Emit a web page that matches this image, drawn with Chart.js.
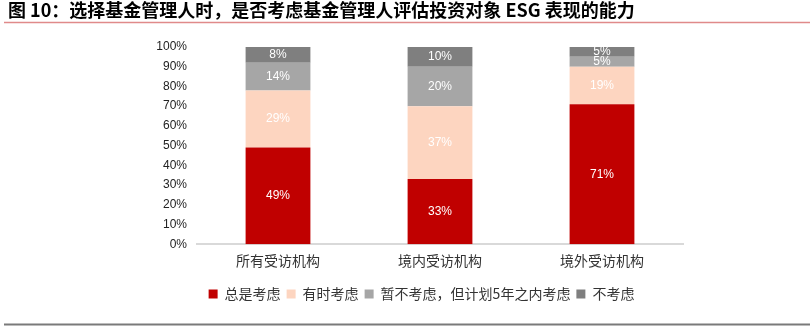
<!DOCTYPE html>
<html><head><meta charset="utf-8">
<script src="https://cdn.jsdelivr.net/npm/chart.js@4.4.1/dist/chart.umd.min.js"></script>
<style>html,body{margin:0;padding:0;background:#fff}#wrap{width:810px;height:336px;position:relative}</style>
</head><body>
<div id="wrap"><canvas id="c" width="810" height="336"></canvas></div>
<script>
const titleText = "图 10：选择基金管理人时，是否考虑基金管理人评估投资对象 ESG 表现的能力";
const categories = ["所有受访机构", "境内受访机构", "境外受访机构"];
const seriesNames = ["总是考虑", "有时考虑", "暂不考虑，但计划5年之内考虑", "不考虑"];
const alwaysVals = [49, 33, 71];
const sometimesVals = [29, 37, 19];
const planVals = [14, 20, 5];
const neverVals = [8, 10, 5];
const colors = ["#C00000", "#FDD5C0", "#A6A6A6", "#7F7F7F"];

const cjk = '"Noto Sans CJK SC", "Noto Sans", sans-serif';
const latin = '"Liberation Sans", Arial, sans-serif';

const decor = {
  id: 'decor',
  afterLayout(chart) {
    if (chart.legend) { chart.legend.left += 5; chart.legend.right += 5; }
  },
  beforeDraw(chart) {
    const ctx = chart.ctx;
    ctx.save();
    ctx.fillStyle = '#fff';
    ctx.fillRect(0, 0, chart.width, chart.height);
    ctx.fillStyle = '#000';
    ctx.font = 'bold 18px ' + cjk;
    ctx.textBaseline = 'middle';
    ctx.textAlign = 'left';
    ctx.fillText(titleText, 8, 10);
    ctx.strokeStyle = '#E08A8A';
    ctx.lineWidth = 1.5;
    ctx.beginPath(); ctx.moveTo(4, 22.5); ctx.lineTo(810, 22.5); ctx.stroke();
    ctx.strokeStyle = '#7A7A7A';
    ctx.lineWidth = 2;
    ctx.beginPath(); ctx.moveTo(4, 324.5); ctx.lineTo(810, 324.5); ctx.stroke();
    ctx.restore();
  },
  afterDatasetsDraw(chart) {
    const ctx = chart.ctx;
    ctx.save();
    ctx.font = '12px ' + latin;
    ctx.fillStyle = '#fff';
    ctx.textAlign = 'center';
    ctx.textBaseline = 'middle';
    chart.data.datasets.forEach((ds, i) => {
      const meta = chart.getDatasetMeta(i);
      meta.data.forEach((el, j) => {
        const cy = (el.y + el.base) / 2;
        ctx.fillText(ds.data[j] + '%', el.x, cy);
      });
    });
    ctx.restore();
  }
};

const datasets = [alwaysVals, sometimesVals, planVals, neverVals].map((d, i) => ({
  label: seriesNames[i],
  data: d,
  backgroundColor: colors[i],
  borderWidth: 0,
  barPercentage: 0.5,
  categoryPercentage: 0.8
}));

new Chart(document.getElementById('c'), {
  type: 'bar',
  data: { labels: categories, datasets },
  plugins: [decor],
  options: {
    responsive: false,
    animation: false,
    layout: { padding: { left: 150, right: 127, top: 47, bottom: 25 } },
    plugins: {
      title: { display: false },
      tooltip: { enabled: false },
      legend: {
        position: 'bottom',
        labels: {
          boxWidth: 9, boxHeight: 9, padding: 6,
          color: '#333', font: { family: cjk, size: 14 }
        }
      }
    },
    scales: {
      x: {
        stacked: true,
        afterFit(s) { s.height = s.height + 4; },
        grid: { display: false, drawTicks: false },
        border: { display: true, color: '#D9D9D9', width: 2 },
        ticks: { color: '#333', font: { family: cjk, size: 14 }, padding: 8 }
      },
      y: {
        stacked: true, min: 0, max: 100,
        afterFit(s) { s.width = 47; },
        grid: { display: false, drawTicks: false },
        border: { display: false },
        ticks: { stepSize: 10, color: '#222', font: { family: latin, size: 12 }, padding: 10,
          callback: v => v + '%' }
      }
    }
  }
});
</script>
</body></html>
